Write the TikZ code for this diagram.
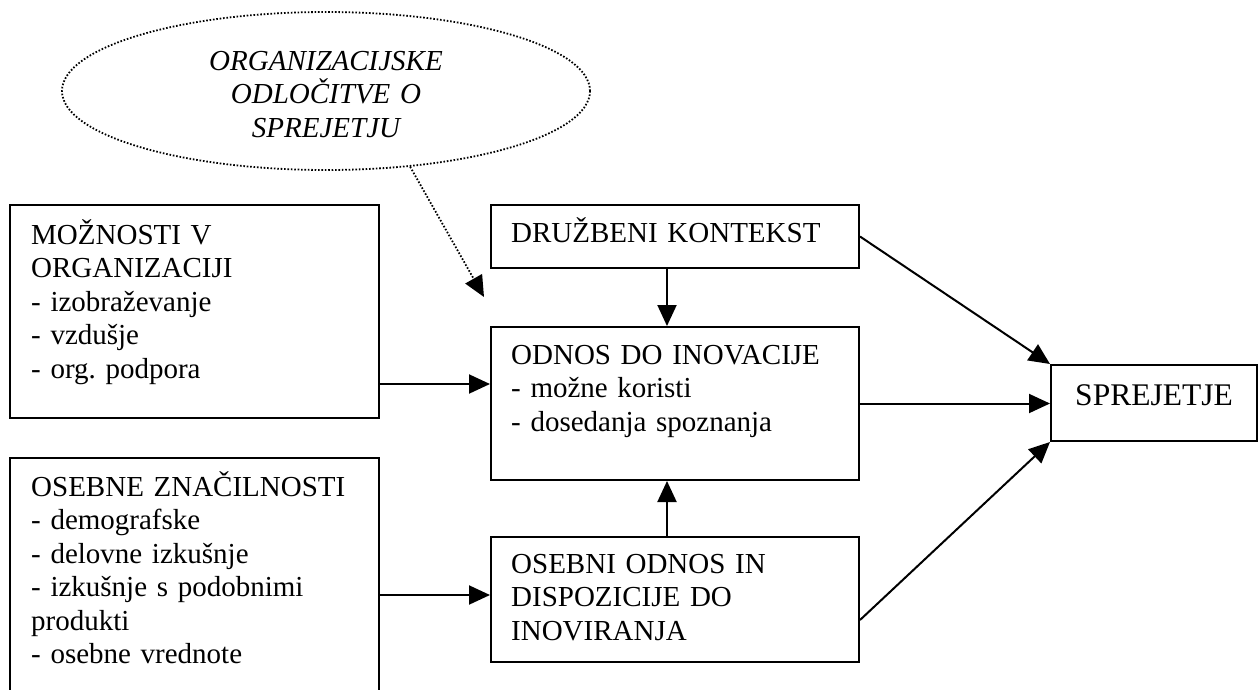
\documentclass[tikz,border=0pt]{standalone}
\usepackage{fontspec}
\setmainfont{Liberation Serif}
\frenchspacing
\usetikzlibrary{arrows.meta,shapes.geometric}
\begin{document}
\begin{tikzpicture}[x=1pt,y=-1pt,
  box/.style={draw, line width=2pt, rectangle, inner sep=0pt},
  lbl/.style={inner sep=0pt, anchor=base west, text width=420pt, align=left,
              font=\fontsize{29}{33.5}\selectfont},
  tip/.style={-{Triangle[length=21pt 0 0,width=19pt 0 0]}},
  arr/.style={line width=2pt, tip},
  dots/.style={line width=1.8pt, dash pattern=on 1.6pt off 1.8pt}
]
\useasboundingbox (0,0) rectangle (1259,689);
\clip (0,0) rectangle (1259,689);

% cloud of organisational decisions
\node[ellipse, draw, dots, minimum width=528pt, minimum height=158pt, inner sep=0pt] (org) at (326,91) {};
\node[inner sep=0pt, anchor=base, text width=320pt, align=center,
      font=\itshape\fontsize{29}{33.5}\selectfont] (orgt) at ([yshift=21pt]org.center)
  {ORGANIZACIJSKE\\ ODLOČITVE O\\ SPREJETJU};

% boxes
\node[box, minimum width=369pt, minimum height=213pt] (moz) at (194.5,311.5) {};
\node[box, minimum width=369pt, minimum height=274pt] (osz) at (194.5,595) {};
\node[box, minimum width=368pt, minimum height=63pt]  (dru) at (675,236.5) {};
\node[box, minimum width=368pt, minimum height=153pt] (odn) at (675,403.5) {};
\node[box, minimum width=368pt, minimum height=125pt] (oso) at (675,599.5) {};
\node[box, minimum width=206pt, minimum height=76pt]  (spr) at (1154,403) {};

% box texts
\node[lbl] (mozt) at ([xshift=22pt,yshift=-40pt]moz.north west)
  {MOŽNOSTI V\\ ORGANIZACIJI\\ - izobraževanje\\ - vzdušje\\ - org. podpora};
\node[lbl] (oszt) at ([xshift=22pt,yshift=-39pt]osz.north west)
  {OSEBNE ZNAČILNOSTI\\ - demografske\\ - delovne izkušnje\\ - izkušnje s podobnimi\\ produkti\\ - osebne vrednote};
\node[lbl] (drut) at ([xshift=21pt,yshift=-38pt]dru.north west) {DRUŽBENI KONTEKST};
\node[lbl] (odnt) at ([xshift=21pt,yshift=-38pt]odn.north west)
  {ODNOS DO INOVACIJE\\ - možne koristi\\ - dosedanja spoznanja};
\node[lbl] (osot) at ([xshift=21pt,yshift=-37pt]oso.north west)
  {OSEBNI ODNOS IN\\ DISPOZICIJE DO\\ INOVIRANJA};
\node[inner sep=0pt, anchor=base, font=\fontsize{31.5}{36}\selectfont] (sprt)
  at ([yshift=-2pt]spr.center) {SPREJETJE};

% connectors
\coordinate (dtip) at (484,297);
\draw[dots, tip] (org.-42.8) -- (dtip);
\draw[arr] ([xshift=-8pt]dru.south) -- ([xshift=-8pt]odn.north);
\draw[arr] ([xshift=-8pt]oso.north) -- ([xshift=-8pt]odn.south);
\draw[arr] ([yshift=-72.5pt]moz.east) -- ([yshift=19.5pt]odn.west);
\draw[arr] (osz.east) -- (oso.west |- osz.east);
\draw[arr] (odn.east) -- (odn.east -| spr.west);
\draw[arr] (dru.east) -- (spr.north west);
\draw[arr] ([yshift=-20.5pt]oso.east) -- (spr.south west);
\end{tikzpicture}
\end{document}
